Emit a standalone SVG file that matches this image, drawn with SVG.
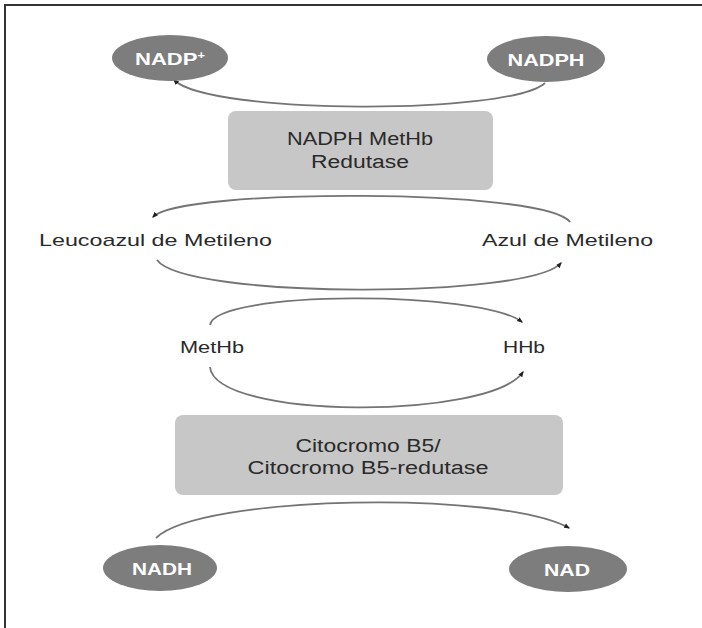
<svg xmlns="http://www.w3.org/2000/svg" width="702" height="628" viewBox="0 0 702 628">
<style>
.ell{fill:#7d7d7d;}
.ellt{font-family:"Liberation Sans",Arial,sans-serif;font-weight:bold;font-size:17px;fill:#ffffff;text-anchor:middle;}
.box{fill:#c7c7c7;}
.t{font-family:"Liberation Sans",Arial,sans-serif;font-size:18px;fill:#2a2a2a;text-anchor:middle;}
.lbl{font-family:"Liberation Sans",Arial,sans-serif;font-size:17px;fill:#2a2a2a;}
.conn{fill:none;stroke:#747474;stroke-width:1.8;}
</style>
<defs>
<marker id="arr" viewBox="0 0 10 10" refX="8" refY="5" markerWidth="6" markerHeight="6" orient="auto" markerUnits="userSpaceOnUse">
<path d="M0,1 L10,5 L0,9 z" fill="#222"/>
</marker>
</defs>
<rect width="702" height="628" fill="#ffffff"/>
<path d="M5,628 L5,5 L702,5" fill="none" stroke="#333" stroke-width="2"/>

<g id="connectors">
<path class="conn" d="M545,83 C510,115 210,115 174,80" marker-end="url(#arr)"/>
<path class="conn" d="M570,222 C545,188 180,188 153,217" marker-end="url(#arr)"/>
<path class="conn" d="M157,260 C185,299 530,299 561,263" marker-end="url(#arr)"/>
<path class="conn" d="M210,325 C215,290 480,290 522,322" marker-end="url(#arr)"/>
<path class="conn" d="M210,367 C215,420 490,420 523,372" marker-end="url(#arr)"/>
<path class="conn" d="M156,538 C200,495 500,490 569,528" marker-end="url(#arr)"/>
</g>

<g id="nadp">
<ellipse class="ell" cx="170" cy="58" rx="58" ry="23"/>
<text class="ellt" x="170" y="65" textLength="70" lengthAdjust="spacingAndGlyphs">NADP<tspan font-size="10" dy="-6">+</tspan></text>
</g>
<g id="nadph">
<ellipse class="ell" cx="546" cy="59" rx="59" ry="23"/>
<text class="ellt" x="546" y="66" textLength="77" lengthAdjust="spacingAndGlyphs">NADPH</text>
</g>
<g id="nadph-methb-redutase">
<rect class="box" x="228" y="111" width="265" height="79" rx="8"/>
<text class="t" x="360" y="145" textLength="146" lengthAdjust="spacingAndGlyphs">NADPH MetHb</text>
<text class="t" x="360" y="168" textLength="98" lengthAdjust="spacingAndGlyphs">Redutase</text>
</g>
<g id="leucoazul">
<text class="lbl" x="39" y="246" textLength="233" lengthAdjust="spacingAndGlyphs">Leucoazul de Metileno</text>
</g>
<g id="azul">
<text class="lbl" x="482" y="246" textLength="171" lengthAdjust="spacingAndGlyphs">Azul de Metileno</text>
</g>
<g id="methb">
<text class="lbl" x="180" y="353" textLength="64" lengthAdjust="spacingAndGlyphs">MetHb</text>
</g>
<g id="hhb">
<text class="lbl" x="503" y="353" textLength="42" lengthAdjust="spacingAndGlyphs">HHb</text>
</g>
<g id="citocromo">
<rect class="box" x="175" y="415" width="388" height="80" rx="8"/>
<text class="t" x="368" y="452" textLength="145" lengthAdjust="spacingAndGlyphs">Citocromo B5/</text>
<text class="t" x="368" y="474" textLength="241" lengthAdjust="spacingAndGlyphs">Citocromo B5-redutase</text>
</g>
<g id="nadh">
<ellipse class="ell" cx="160" cy="568" rx="57" ry="23"/>
<text class="ellt" x="162" y="575" textLength="60" lengthAdjust="spacingAndGlyphs">NADH</text>
</g>
<g id="nad">
<ellipse class="ell" cx="568" cy="569" rx="59" ry="23"/>
<text class="ellt" x="567" y="576" textLength="46" lengthAdjust="spacingAndGlyphs">NAD</text>
</g>
</svg>
